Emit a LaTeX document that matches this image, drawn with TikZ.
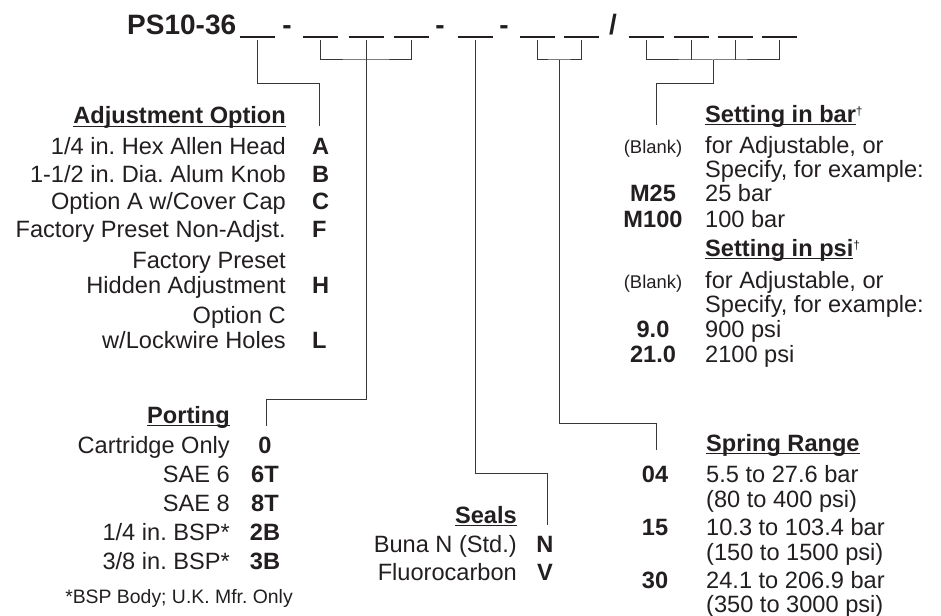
\documentclass[tikz,border=0pt]{standalone}
\usepackage{fontspec}
\setmainfont{Liberation Sans}
\frenchspacing
\definecolor{ink}{RGB}{35,31,32}
\definecolor{wire}{RGB}{55,55,55}
\newcommand\hd[1]{\setbox0\hbox{\bfseries #1}\rlap{\rule[-3pt]{\wd0}{1.4pt}}\box0}
\newcommand\dg{\raisebox{7pt}{\fontsize{12}{12}\selectfont †}}
\begin{document}
\begin{tikzpicture}[x=1pt,y=-1pt,
  every node/.style={inner sep=0pt,text=ink},
  tx/.style={font=\fontsize{23.6}{26}\selectfont},
  cd/.style={font=\fontsize{23.6}{26}\selectfont\bfseries},
  rt/.style={tx,anchor=base east},
  lt/.style={tx,anchor=base west},
  cdl/.style={cd,anchor=base west},
  cdc/.style={cd,anchor=base},
  sm/.style={font=\fontsize{18.4}{20}\selectfont,anchor=base},
  big/.style={font=\fontsize{28}{30}\selectfont\bfseries,anchor=base},
  blank/.style={draw=ink,line width=1.3pt},
  conn/.style={draw=wire,line width=1pt}]
\useasboundingbox (0,0) rectangle (941,615);

% ---- title ----
\node[big,anchor=base west] (title) at (127,35) {PS10-36};
\node[big] (d1) at (287,35) {-};
\node[big] (d2) at (440,35) {-};
\node[big] (d3) at (504,35) {-};
\node[big] (sl) at (613,35) {/};

\foreach \n/\x in {1/257,2/320,3/366,4/411,5/475,6/537,7/581,8/646,9/691,10/735,11/779}{
  \coordinate (b\n) at (\x,40);
  \draw[blank] (\x-17.5,37) -- (\x+17.5,37);
}

% ---- connector coordinates ----
\coordinate (a1) at (319,84);   \coordinate (a2) at (319,126);
\coordinate (p0) at (366,60);   \coordinate (p1) at (266,399); \coordinate (p2) at (266,426);
\coordinate (s1) at (547,473);  \coordinate (s2) at (547,525);
\coordinate (r0) at (559,60);   \coordinate (r1) at (656,423); \coordinate (r2) at (656,450);
\coordinate (t0) at (713,60);   \coordinate (t1) at (656,84);  \coordinate (t2) at (656,125);

\draw[conn] (b1) |- (a1) -- (a2);
\draw[conn] (b2) |- (p0) -| (b4);
\draw[conn] (b3) |- (p1) -- (p2);
\draw[conn] (b5) |- (s1) -- (s2);
\draw[conn] (b6) |- (r0) -| (b7);
\draw[conn] (r0) |- (r1) -- (r2);
\draw[conn] (b8) |- (t0) -| (b11);
\draw[conn] (b9) -- (b9 |- t0);
\draw[conn] (b10) -- (b10 |- t0);
\draw[conn] (t0) |- (t1) -- (t2);

% ---- Adjustment option ----
\node[rt] (adjh) at (286,124) {\hd{Adjustment Option}};
\node[rt] (adj1) at (286,154) {1/4 in. Hex Allen Head};
\node[rt] (adj2) at (286,182) {1-1/2 in. Dia. Alum Knob};
\node[rt] (adj3) at (286,209) {Option A w/Cover Cap};
\node[rt] (adj4) at (286,237) {Factory Preset Non-Adjst.};
\node[rt] (adj5a) at (286,268) {Factory Preset};
\node[rt] (adj5) at (286,293) {Hidden Adjustment};
\node[rt] (adj6a) at (286,323) {Option C};
\node[rt] (adj6) at (286,348) {w/Lockwire Holes};
\node[cdl] (ca) at (312,154) {A};
\node[cdl] (cb) at (312,182) {B};
\node[cdl] (cc) at (312,209) {C};
\node[cdl] (cf) at (312,237) {F};
\node[cdl] (ch) at (312,293) {H};
\node[cdl] (cl) at (312,348) {L};

% ---- Porting ----
\node[rt] (porh) at (230,423) {\hd{Porting}};
\node[rt] (por1) at (230,453) {Cartridge Only};
\node[rt] (por2) at (230,482) {SAE 6};
\node[rt] (por3) at (230,511) {SAE 8};
\node[rt] (por4) at (230,540) {1/4 in. BSP*};
\node[rt] (por5) at (230,569) {3/8 in. BSP*};
\node[cdc] (c0) at (265,453) {0};
\node[cdc] (c6t) at (265,482) {6T};
\node[cdc] (c8t) at (265,511) {8T};
\node[cdc] (c2b) at (265,540) {2B};
\node[cdc] (c3b) at (265,569) {3B};
\node[font=\fontsize{19.4}{21}\selectfont,anchor=base] (foot) at (179,603) {*BSP Body; U.K. Mfr. Only};

% ---- Seals ----
\node[rt] (seah) at (517,523) {\hd{Seals}};
\node[rt] (sea1) at (517,552) {Buna N (Std.)};
\node[rt] (sea2) at (517,580) {Fluorocarbon};
\node[cdc] (cn) at (545,552) {N};
\node[cdc] (cv) at (545,580) {V};

% ---- Spring range ----
\node[lt] (sprh) at (706,451) {\hd{Spring Range}};
\node[lt] (spr1) at (706,482) {5.5 to 27.6 bar};
\node[lt] (spr1b) at (706,507) {(80 to 400 psi)};
\node[lt] (spr2) at (706,535) {10.3 to 103.4 bar};
\node[lt] (spr2b) at (706,560) {(150 to 1500 psi)};
\node[lt] (spr3) at (706,588) {24.1 to 206.9 bar};
\node[lt] (spr3b) at (706,612) {(350 to 3000 psi)};
\node[cdc] (c04) at (655,482) {04};
\node[cdc] (c15) at (655,535) {15};
\node[cdc] (c30) at (655,588) {30};

% ---- Setting ----
\node[lt] (setbh) at (705,122) {\hd{Setting in bar}\dg};
\node[sm,text=ink] (bl1) at (653,153) {(Blank)};
\node[lt] (setb1) at (705,153) {for Adjustable, or};
\node[lt] (setb1b) at (705,177) {Specify, for example:};
\node[cdc] (cm25) at (653,201) {M25};
\node[lt] (setb2) at (705,201) {25 bar};
\node[cdc] (cm100) at (653,227) {M100};
\node[lt] (setb3) at (705,227) {100 bar};
\node[lt] (setph) at (705,256) {\hd{Setting in psi}\dg};
\node[sm,text=ink] (bl2) at (653,288) {(Blank)};
\node[lt] (setp1) at (705,288) {for Adjustable, or};
\node[lt] (setp1b) at (705,312) {Specify, for example:};
\node[cdc] (c90) at (653,337) {9.0};
\node[lt] (setp2) at (705,337) {900 psi};
\node[cdc] (c210) at (653,362) {21.0};
\node[lt] (setp3) at (705,362) {2100 psi};
\end{tikzpicture}
\end{document}
